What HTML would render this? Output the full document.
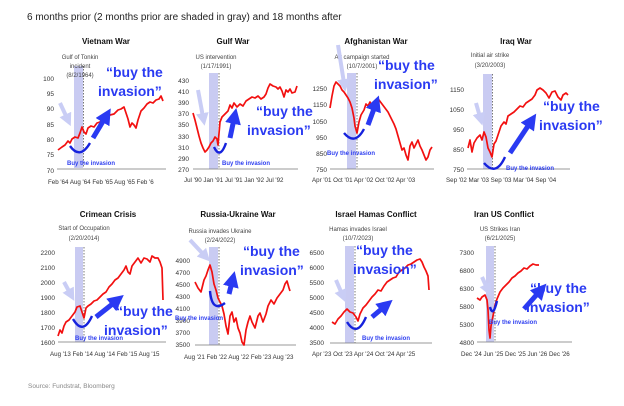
<!DOCTYPE html><html><head><style>body{margin:0;background:#fff}svg{display:block}text{font-family:"Liberation Sans",Arial,sans-serif}</style></head><body>
<svg width="624" height="406" viewBox="0 0 624 406" xmlns="http://www.w3.org/2000/svg">
<defs>
<marker id="ah" viewBox="0 0 10 10" refX="3" refY="5" markerWidth="3.2" markerHeight="3.2" orient="auto"><path d="M0,0L10,5L0,10z" fill="#2a3af2"/></marker>
<marker id="ap" viewBox="0 0 10 10" refX="3" refY="5" markerWidth="3.2" markerHeight="3.2" orient="auto"><path d="M0,0L10,5L0,10z" fill="#c9cdf5"/></marker>
</defs>
<text x="27" y="20" font-size="10" fill="#222">6 months prior (2 months prior are shaded in gray) and 18 months after</text>
<g font-size="6.5" fill="#333">
<g font-weight="bold" font-size="8" fill="#111" text-anchor="middle">
<text x="106" y="44">Vietnam War</text><text x="233" y="44">Gulf War</text><text x="376" y="44">Afghanistan War</text><text x="516" y="44">Iraq War</text>
<text x="108" y="217">Crimean Crisis</text><text x="238" y="217">Russia-Ukraine War</text><text x="376" y="217">Israel Hamas Conflict</text><text x="504" y="217">Iran US Conflict</text>
</g>
<g fill="#c9cbf2">
<rect x="74" y="66" width="9" height="102"/><rect x="209" y="73" width="9" height="96"/><rect x="347" y="73" width="9" height="96"/><rect x="483" y="74" width="9" height="95"/>
<rect x="75" y="247" width="8" height="95"/><rect x="209" y="247" width="9" height="98"/><rect x="345" y="246" width="9" height="97"/><rect x="486" y="246" width="8" height="96"/>
</g>
<g stroke="#555" stroke-width="0.8" stroke-dasharray="1.5,1.5">
<line x1="83.5" y1="66" x2="83.5" y2="168"/><line x1="219" y1="73" x2="219" y2="169"/><line x1="357" y1="73" x2="357" y2="169"/><line x1="492.5" y1="74" x2="492.5" y2="169"/>
<line x1="84" y1="247" x2="84" y2="342"/><line x1="219" y1="247" x2="219" y2="345"/><line x1="355" y1="246" x2="355" y2="343"/><line x1="495" y1="246" x2="495" y2="342"/>
</g>
<g stroke="#777" stroke-width="0.8">
<line x1="57" y1="169" x2="166" y2="169"/><line x1="193" y1="169" x2="298" y2="169"/><line x1="330" y1="169" x2="434" y2="169"/><line x1="467" y1="169" x2="570" y2="169"/>
<line x1="58" y1="342" x2="166" y2="342"/><line x1="195" y1="345" x2="296" y2="345"/><line x1="330" y1="343" x2="432" y2="343"/><line x1="477" y1="342" x2="572" y2="342"/>
</g>
<g text-anchor="middle" font-size="6" fill="#444">
<text x="80" y="59">Gulf of Tonkin</text><text x="80" y="68">incident</text><text x="80" y="77">(8/2/1964)</text>
<text x="216" y="59">US intervention</text><text x="216" y="68">(1/17/1991)</text>
<text x="362" y="59">Air campaign started</text><text x="362" y="68">(10/7/2001)</text>
<text x="490" y="57">Initial air strike</text><text x="490" y="67">(3/20/2003)</text>
<text x="84" y="230">Start of Occupation</text><text x="84" y="240">(2/20/2014)</text>
<text x="220" y="233">Russia invades Ukraine</text><text x="220" y="242">(2/24/2022)</text>
<text x="358" y="231">Hamas invades Israel</text><text x="358" y="240">(10/7/2023)</text>
<text x="500" y="231">US Strikes Iran</text><text x="500" y="240">(6/21/2025)</text>
</g>
<g text-anchor="end">
<text x="54" y="81">100</text><text x="54" y="96">95</text><text x="54" y="111">90</text><text x="54" y="127">85</text><text x="54" y="142">80</text><text x="54" y="157">75</text><text x="54" y="173">70</text>
<text x="189" y="83">430</text><text x="189" y="94">410</text><text x="189" y="105">390</text><text x="189" y="116">370</text><text x="189" y="127">350</text><text x="189" y="139">330</text><text x="189" y="150">310</text><text x="189" y="161">290</text><text x="189" y="172">270</text>
<text x="327" y="91">1250</text><text x="327" y="107">1150</text><text x="327" y="124">1050</text><text x="327" y="140">950</text><text x="327" y="156">850</text><text x="327" y="172">750</text>
<text x="464" y="92">1150</text><text x="464" y="112">1050</text><text x="464" y="132">950</text><text x="464" y="152">850</text><text x="464" y="172">750</text>
<text x="55" y="255">2200</text><text x="55" y="270">2100</text><text x="55" y="285">2000</text><text x="55" y="300">1900</text><text x="55" y="315">1800</text><text x="55" y="330">1700</text><text x="55" y="345">1600</text>
<text x="190" y="263">4900</text><text x="190" y="275">4700</text><text x="190" y="287">4500</text><text x="190" y="299">4300</text><text x="190" y="311">4100</text><text x="190" y="323">3900</text><text x="190" y="335">3700</text><text x="190" y="347">3500</text>
<text x="324" y="255">6500</text><text x="324" y="270">6000</text><text x="324" y="285">5500</text><text x="324" y="300">5000</text><text x="324" y="315">4500</text><text x="324" y="330">4000</text><text x="324" y="345">3500</text>
<text x="474" y="255">7300</text><text x="474" y="273">6800</text><text x="474" y="291">6300</text><text x="474" y="309">5800</text><text x="474" y="327">5300</text><text x="474" y="345">4800</text>
</g>
<g font-size="6.2">
<text x="48" y="184">Feb '64 Aug '64 Feb '65 Aug '65 Feb '6</text>
<text x="184" y="182">Jul '90  Jan '91  Jul '91  Jan '92  Jul '92</text>
<text x="312" y="182">Apr '01 Oct '01 Apr '02 Oct '02 Apr '03</text>
<text x="446" y="182">Sep '02 Mar '03 Sep '03 Mar '04 Sep '04</text>
<text x="50" y="356">Aug '13 Feb '14 Aug '14 Feb '15 Aug '15</text>
<text x="184" y="359">Aug '21 Feb '22 Aug '22 Feb '23 Aug '23</text>
<text x="312" y="356">Apr '23 Oct '23 Apr '24 Oct '24 Apr '25</text>
<text x="461" y="356">Dec '24 Jun '25 Dec '25 Jun '26 Dec '26</text>
</g>
</g>
<g fill="none" stroke="#f21010" stroke-width="1.7" stroke-linejoin="round">
<polyline points="58,150 62,147 65,145 68,141 70,143 72,139 75,137 78,138 80,133 82,127 84,132 86,134 88,128 91,126 94,127 97,123 100,122 103,118 106,117 110,115 114,114 118,110 121,109 124,107 126,113 128,119 130,127 132,123 134,125 136,128 138,120 141,111 144,108 147,104 150,102 153,103 156,100 159,99 161,96 163,101"/>
<polyline points="193,113 195,120 197,128 199,136 201,143 203,148 205,152 207,150 209,147 211,143 213,141 215,137 217,139 218,145 220,122 222,117 225,114 228,111 230,105 232,108 234,103 237,107 240,104 243,106 246,101 249,99 252,97 255,98 258,96 261,99 264,97 266,94 268,88 270,84 273,86 276,87 278,89 280,87 282,91 284,97 286,90 288,92 290,89 292,93 295,92 297,86"/>
<polyline points="330,108 332,96 334,86 336,82 338,84 340,86 342,90 344,92 346,95 348,98 350,102 352,108 354,118 355,126 357,133 359,122 361,115 364,110 366,104 368,106 370,102 373,108 376,101 379,100 382,104 385,108 388,112 391,118 394,124 396,129 398,136 400,143 402,150 404,148 406,155 408,160 410,146 412,142 414,148 416,144 418,140 420,146 422,150 424,155 426,160 428,157 430,150 432,147"/>
<polyline points="468,148 470,140 472,152 474,143 477,138 480,135 482,140 484,132 486,137 488,148 490,152 492,157 494,144 496,141 498,135 501,126 504,122 506,124 508,116 511,114 514,112 517,109 520,106 523,107 526,103 529,101 532,99 535,95 537,90 540,88 543,90 546,93 549,98 552,92 555,91 558,97 561,100 563,95 566,93 568,95"/>
<polyline points="58,336 60,330 62,333 64,326 66,322 69,320 72,316 75,312 77,307 80,306 82,312 84,318 86,308 88,306 91,304 94,301 97,300 100,297 103,294 106,292 109,287 112,284 115,280 118,278 121,274 124,270 126,266 128,272 130,274 132,266 135,262 138,258 141,263 144,258 147,259 150,262 152,256 155,258 158,258 160,262 162,268 163,300"/>
<polyline points="195,282 198,288 201,292 204,280 206,276 208,270 210,265 212,272 214,284 216,290 218,298 220,302 222,306 224,314 226,326 228,334 230,316 232,312 234,322 236,318 238,328 240,333 242,342 244,345 246,330 248,322 250,316 252,322 255,328 258,316 260,313 263,322 266,314 268,306 271,300 274,304 277,298 280,294 283,290 285,284 287,281 289,288 290,291"/>
<polyline points="332,322 335,324 338,319 341,316 344,312 347,309 350,312 353,313 356,317 358,321 360,314 363,308 366,305 369,301 372,297 375,294 378,290 381,291 384,286 387,282 390,280 393,278 396,277 399,272 402,270 405,268 408,265 411,264 414,262 417,260 420,259 422,262 424,267 426,271 428,276 429,290"/>
<polyline points="477,298 480,300 482,297 485,295 487,300 488,310 489,330 490,338 491,326 493,316 495,305 497,299 500,292 503,288 506,285 509,282 512,278 515,276 518,273 521,271 524,268 527,269 530,266 533,264 536,265 539,265"/>
</g>
<g stroke="#c9cdf5" stroke-width="4" marker-end="url(#ap)" fill="none">
<line x1="60" y1="103" x2="67" y2="118"/><line x1="198" y1="90" x2="203" y2="117"/><line x1="338" y1="45" x2="344" y2="83"/><line x1="476" y1="103" x2="480" y2="117"/>
<line x1="64" y1="282" x2="70" y2="293"/><line x1="190" y1="240" x2="204" y2="255"/><line x1="336" y1="280" x2="342" y2="294"/><line x1="482" y1="277" x2="487" y2="288"/>
</g>
<g stroke="#1622dd" stroke-width="2.4" fill="none">
<path d="M70,146 Q80,160 90,143"/><path d="M214,147 Q220,160 226,143"/><path d="M344,133 Q355,146 364,129"/><path d="M484,163 Q496,177 505,157"/>
<path d="M73,319 Q83,336 92,316"/><path d="M210,291 Q212,313 225,303"/><path d="M347,322 Q357,338 366,317"/><path d="M490,307 Q493,318 497,301"/>
</g>
<g stroke="#2a3af2" stroke-width="5" marker-end="url(#ah)" fill="none">
<line x1="93" y1="138" x2="105" y2="118"/><line x1="230" y1="138" x2="234" y2="119"/><line x1="368" y1="125" x2="375" y2="106"/><line x1="510" y1="153" x2="530" y2="123"/>
<line x1="96" y1="317" x2="115" y2="302"/><line x1="229" y1="294" x2="232" y2="282"/><line x1="372" y1="317" x2="384" y2="307"/><line x1="524" y1="309" x2="539" y2="292"/>
</g>
<g fill="#3040f0" font-size="6" font-weight="bold">
<text x="67" y="165">Buy the invasion</text><text x="222" y="165">Buy the invasion</text><text x="327" y="155">Buy the invasion</text><text x="506" y="170">Buy the invasion</text>
<text x="75" y="340">Buy the invasion</text><text x="175" y="320">Buy the invasion</text><text x="362" y="340">Buy the invasion</text><text x="489" y="324">Buy the invasion</text>
</g>
<g fill="#2a3af2" font-size="14" font-weight="bold">
<text x="106" y="77">“buy the</text><text x="98" y="96">invasion”</text>
<text x="256" y="116">“buy the</text><text x="247" y="135">invasion”</text>
<text x="378" y="70">“buy the</text><text x="374" y="89">invasion”</text>
<text x="543" y="111">“buy the</text><text x="539" y="130">invasion”</text>
<text x="116" y="316">“buy the</text><text x="104" y="335">invasion”</text>
<text x="243" y="256">“buy the</text><text x="240" y="275">invasion”</text>
<text x="356" y="255">“buy the</text><text x="353" y="274">invasion”</text>
<text x="530" y="293">“buy the</text><text x="526" y="312">invasion”</text>
</g>
<text x="28" y="388" font-size="6.5" fill="#888">Source: Fundstrat, Bloomberg</text>
</svg></body></html>
